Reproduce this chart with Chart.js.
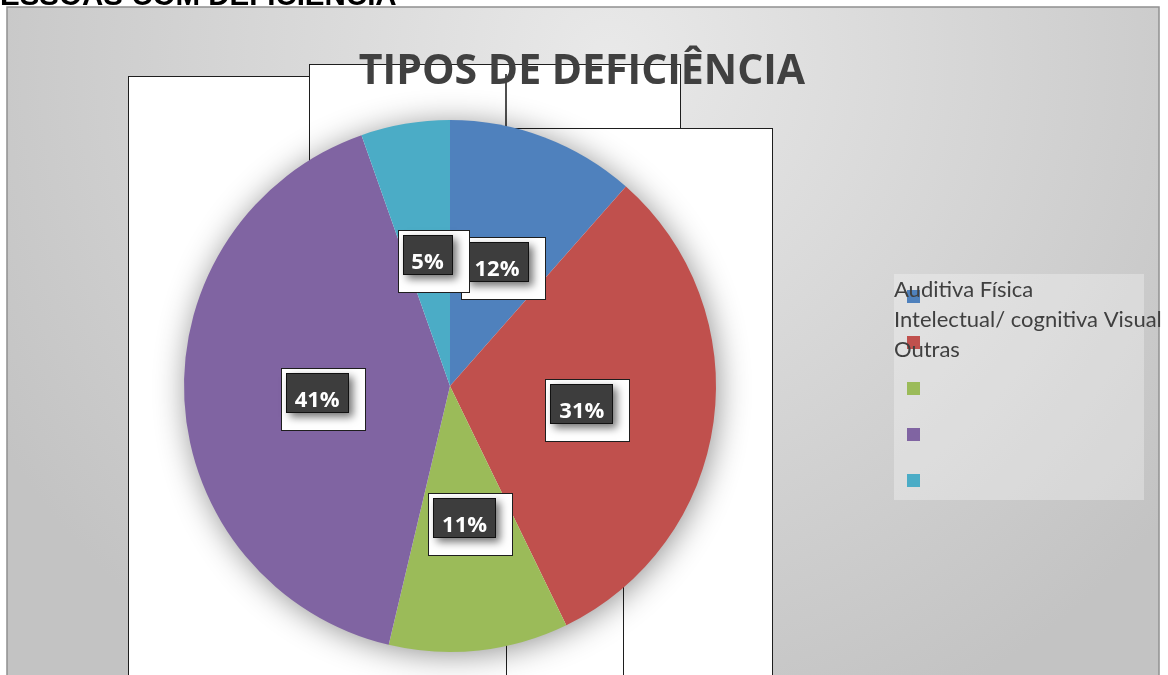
<!DOCTYPE html>
<html lang="pt">
<head>
<meta charset="utf-8">
<title>Tipos de deficiência</title>
<script src="https://cdn.jsdelivr.net/npm/chart.js@4.4.1/dist/chart.umd.min.js"></script>
<style>
    html, body { margin: 0; padding: 0; background: #fff; overflow: hidden; }
    #wrap { position: relative; width: 1168px; height: 675px; }
</style>
</head>
<body>
<div id="wrap"><canvas id="chart" width="1168" height="675"></canvas></div>
<script>
const pageHeading = 'ESSOAS COM DEFICIÊNCIA';
const chartTitle = 'TIPOS DE DEFICIÊNCIA';
const categories = ['Auditiva', 'Física', 'Intelectual/ cognitiva', 'Visual', 'Outras'];
const shares = [11.5, 31.3, 10.9, 40.9, 5.4];
const sliceColors = ['#4F81BD', '#C0504D', '#9BBB59', '#8064A2', '#4BACC6'];

// leftover white boxes from the exported slide: x, y, w, h
const STRAY_BOXES = [
    [128, 76, 379, 640],
    [309, 64, 371, 322],
    [506, 128, 266, 640]
];
// loose edges of the same boxes: x, y1, y2, width, colour
const STRAY_EDGES = [
    [506, 74, 128, 2, '#505050'],
    [623.5, 560, 700, 1, '#1e1e1e']
];

const TEXT_DARK = '#404040';

const backdropPlugin = {
    id: 'backdrop',
    beforeDraw(chart) {
        const ctx = chart.ctx;
        ctx.save();
        ctx.fillStyle = '#fff';
        ctx.fillRect(0, 0, chart.width, chart.height);

        // heading of the page, cut at the top edge
        ctx.fillStyle = '#000';
        ctx.font = 'bold 29.5px "Liberation Sans", Arial, sans-serif';
        ctx.textBaseline = 'alphabetic';
        ctx.fillText(pageHeading, 0, 5);

        // frame with grey gradient
        const g = ctx.createRadialGradient(610, 60, 0, 610, 60, 720);
        g.addColorStop(0, '#e9e9e9');
        g.addColorStop(1, '#c3c3c3');
        ctx.fillStyle = g;
        ctx.fillRect(7, 7, 1152, 700);
        ctx.strokeStyle = '#909090';
        ctx.lineWidth = 1.5;
        ctx.strokeRect(7, 7, 1152, 700);

        ctx.lineWidth = 1;
        ctx.strokeStyle = '#1e1e1e';
        STRAY_BOXES.forEach(([x, y, w, h]) => {
            ctx.fillStyle = '#fff';
            ctx.fillRect(x, y, w, h);
            ctx.strokeRect(x + 0.5, y + 0.5, w, h);
        });
        STRAY_EDGES.forEach(([x, y1, y2, lw, col]) => {
            ctx.strokeStyle = col;
            ctx.lineWidth = lw;
            ctx.beginPath();
            ctx.moveTo(x, y1);
            ctx.lineTo(x, y2);
            ctx.stroke();
        });

        ctx.fillStyle = TEXT_DARK;
        ctx.font = 'bold 41px "Open Sans", sans-serif';
        ctx.textAlign = 'center';
        ctx.fillText(chartTitle, 582, 84);
        ctx.restore();
    }
};

const pieShadowPlugin = {
    id: 'pieShadow',
    beforeDatasetsDraw(chart) {
        const arc = chart.getDatasetMeta(0).data[0];
        if (!arc) return;
        const ctx = chart.ctx;
        ctx.save();
        ctx.shadowColor = 'rgba(0,0,0,0.45)';
        ctx.shadowBlur = 32;
        ctx.shadowOffsetX = 2;
        ctx.shadowOffsetY = 3;
        ctx.fillStyle = '#ffffff';
        ctx.beginPath();
        ctx.arc(arc.x, arc.y, arc.outerRadius - 1, 0, Math.PI * 2);
        ctx.fill();
        ctx.restore();
    }
};

const boxLabelsPlugin = {
    id: 'boxLabels',
    afterDatasetsDraw(chart) {
        const ctx = chart.ctx;
        const values = chart.data.datasets[0].data;
        const total = values.reduce((a, b) => a + b, 0);
        ctx.save();
        ctx.font = 'bold 22px "Open Sans", sans-serif';
        chart.getDatasetMeta(0).data.forEach((arc, i) => {
            const text = Math.round(values[i] / total * 100) + '%';
            const p = arc.tooltipPosition();
            const w = Math.round(ctx.measureText(text).width + 18);
            const h = 40;
            const x = Math.round(p.x - w / 2);
            const y = Math.round(p.y - h / 2);

            ctx.fillStyle = '#fff';
            ctx.strokeStyle = '#1e1e1e';
            ctx.lineWidth = 1;
            ctx.fillRect(x - 5, y - 5, w + 21, h + 22);
            ctx.strokeRect(x - 4.5, y - 4.5, w + 21, h + 22);

            ctx.save();
            ctx.shadowColor = 'rgba(0,0,0,0.55)';
            ctx.shadowBlur = 8;
            ctx.shadowOffsetX = 4;
            ctx.shadowOffsetY = 4;
            ctx.fillStyle = '#3d3d3d';
            ctx.fillRect(x, y, w, h);
            ctx.restore();
            ctx.strokeStyle = '#111';
            ctx.strokeRect(x + 0.5, y + 0.5, w - 1, h - 1);

            ctx.fillStyle = '#fff';
            ctx.textAlign = 'center';
            ctx.textBaseline = 'alphabetic';
            ctx.fillText(text, p.x, p.y + 14);
        });
        ctx.restore();
    }
};

// legend: one block of wrapped text, squares listed below it
const sideLegendPlugin = {
    id: 'sideLegend',
    afterDraw(chart) {
        const ctx = chart.ctx;
        const colors = chart.data.datasets[0].backgroundColor;
        ctx.save();
        ctx.fillStyle = 'rgba(255,255,255,0.3)';
        ctx.fillRect(894, 274, 250, 226);

        colors.forEach((c, i) => {
            ctx.fillStyle = c;
            ctx.fillRect(907, 290 + i * 46, 13, 13);
        });

        ctx.font = '22px Lato, sans-serif';
        const lines = [];
        let line = '';
        chart.data.labels.forEach(lbl => {
            const next = line ? line + ' ' + lbl : lbl;
            if (line && ctx.measureText(next).width > 280) {
                lines.push(line);
                line = lbl;
            } else {
                line = next;
            }
        });
        if (line) lines.push(line);

        ctx.fillStyle = TEXT_DARK;
        ctx.textBaseline = 'alphabetic';
        lines.forEach((l, i) => ctx.fillText(l, 894, 297 + i * 30));
        ctx.restore();
    }
};

new Chart(document.getElementById('chart'), {
    type: 'pie',
    data: {
        labels: categories,
        datasets: [{
            data: shares,
            backgroundColor: sliceColors,
            borderWidth: 0
        }]
    },
    options: {
        responsive: false,
        animation: false,
        layout: { padding: { left: 184, top: 120, right: 452, bottom: 23 } },
        plugins: {
            legend: { display: false },
            title: { display: false },
            tooltip: { enabled: false }
        }
    },
    plugins: [backdropPlugin, pieShadowPlugin, boxLabelsPlugin, sideLegendPlugin]
});
</script>
</body>
</html>
